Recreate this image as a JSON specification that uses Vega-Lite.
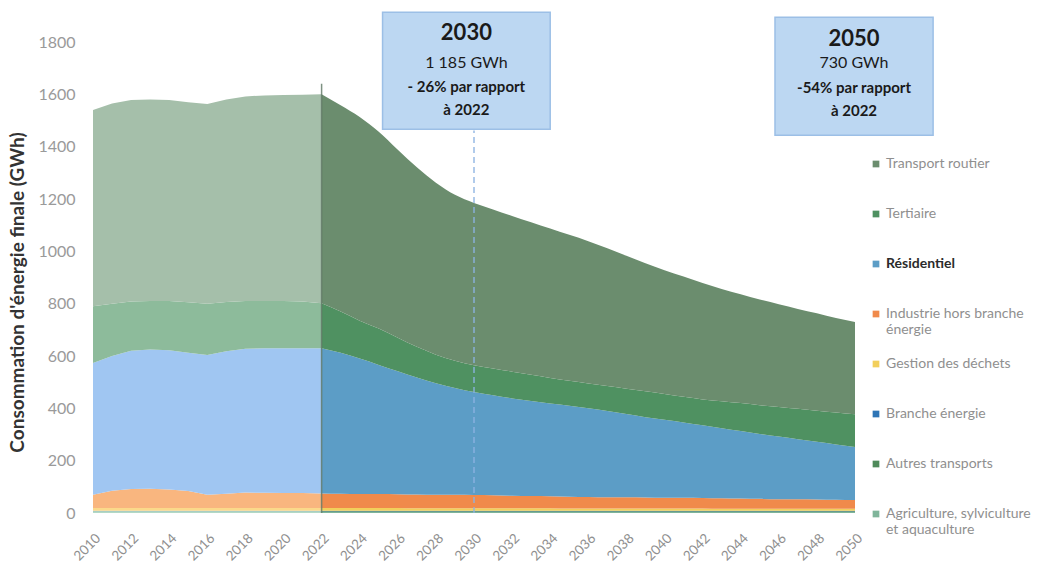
{
  "$schema": "https://vega.github.io/schema/vega-lite/v6.json",
  "width": 762,
  "height": 471,
  "autosize": {"type": "none"},
  "padding": {"left": 93, "top": 42, "right": 190, "bottom": 51},
  "background": "white",
  "config": {
    "view": {"stroke": null},
    "font": "Lato",
    "axis": {"grid": false, "domain": false, "ticks": false}
  },
  "datasets": {
    "secteurs": [
      {"cle": "agri", "secteur": "Agriculture, sylviculture et aquaculture", "rang": 1},
      {"cle": "autres", "secteur": "Autres transports", "rang": 2},
      {"cle": "branche", "secteur": "Branche énergie", "rang": 3},
      {"cle": "dechets", "secteur": "Gestion des déchets", "rang": 4},
      {"cle": "industrie", "secteur": "Industrie hors branche énergie", "rang": 5},
      {"cle": "residentiel", "secteur": "Résidentiel", "rang": 6},
      {"cle": "tertiaire", "secteur": "Tertiaire", "rang": 7},
      {"cle": "transport", "secteur": "Transport routier", "rang": 8}
    ],
    "historique": [
      {"annee": 2010, "agri": 4, "autres": 3, "branche": 2, "dechets": 10, "industrie": 51, "residentiel": 503, "tertiaire": 217, "transport": 750},
      {"annee": 2011, "agri": 4, "autres": 3, "branche": 2, "dechets": 10, "industrie": 66, "residentiel": 515, "tertiaire": 200, "transport": 765},
      {"annee": 2012, "agri": 4, "autres": 3, "branche": 2, "dechets": 10, "industrie": 73, "residentiel": 528, "tertiaire": 188, "transport": 770},
      {"annee": 2013, "agri": 4, "autres": 3, "branche": 2, "dechets": 10, "industrie": 74, "residentiel": 532, "tertiaire": 185, "transport": 770},
      {"annee": 2014, "agri": 4, "autres": 3, "branche": 2, "dechets": 10, "industrie": 71, "residentiel": 532, "tertiaire": 188, "transport": 768},
      {"annee": 2015, "agri": 4, "autres": 3, "branche": 2, "dechets": 10, "industrie": 65, "residentiel": 528, "tertiaire": 193, "transport": 765},
      {"annee": 2016, "agri": 4, "autres": 3, "branche": 2, "dechets": 10, "industrie": 51, "residentiel": 534, "tertiaire": 196, "transport": 763},
      {"annee": 2017, "agri": 4, "autres": 3, "branche": 2, "dechets": 10, "industrie": 55, "residentiel": 544, "tertiaire": 188, "transport": 774},
      {"annee": 2018, "agri": 4, "autres": 3, "branche": 2, "dechets": 10, "industrie": 59, "residentiel": 550, "tertiaire": 182, "transport": 782},
      {"annee": 2019, "agri": 4, "autres": 3, "branche": 2, "dechets": 10, "industrie": 58, "residentiel": 553, "tertiaire": 180, "transport": 786},
      {"annee": 2020, "agri": 4, "autres": 3, "branche": 2, "dechets": 10, "industrie": 57, "residentiel": 554, "tertiaire": 180, "transport": 787},
      {"annee": 2021, "agri": 4, "autres": 3, "branche": 2, "dechets": 10, "industrie": 57, "residentiel": 554, "tertiaire": 178, "transport": 790},
      {"annee": 2022, "agri": 4, "autres": 3, "branche": 2, "dechets": 10, "industrie": 56, "residentiel": 555, "tertiaire": 172, "transport": 798}
    ],
    "projection": [
      {"annee": 2022, "agri": 4, "autres": 3, "branche": 2, "dechets": 10, "industrie": 56, "residentiel": 555, "tertiaire": 172, "transport": 798},
      {"annee": 2023, "agri": 4, "autres": 3, "branche": 2, "dechets": 10, "industrie": 55, "residentiel": 538, "tertiaire": 158, "transport": 788},
      {"annee": 2024, "agri": 4, "autres": 3, "branche": 2, "dechets": 10, "industrie": 54, "residentiel": 517, "tertiaire": 145, "transport": 778},
      {"annee": 2025, "agri": 4, "autres": 3, "branche": 2, "dechets": 10, "industrie": 54, "residentiel": 493, "tertiaire": 139, "transport": 752},
      {"annee": 2026, "agri": 4, "autres": 3, "branche": 2, "dechets": 10, "industrie": 53, "residentiel": 470, "tertiaire": 128, "transport": 718},
      {"annee": 2027, "agri": 4, "autres": 3, "branche": 2, "dechets": 9, "industrie": 53, "residentiel": 447, "tertiaire": 117, "transport": 686},
      {"annee": 2028, "agri": 4, "autres": 3, "branche": 2, "dechets": 9, "industrie": 52, "residentiel": 426, "tertiaire": 109, "transport": 657},
      {"annee": 2029, "agri": 4, "autres": 3, "branche": 2, "dechets": 9, "industrie": 52, "residentiel": 408, "tertiaire": 104, "transport": 634},
      {"annee": 2030, "agri": 4, "autres": 3, "branche": 2, "dechets": 9, "industrie": 51, "residentiel": 393, "tertiaire": 103, "transport": 620},
      {"annee": 2031, "agri": 4, "autres": 3, "branche": 2, "dechets": 9, "industrie": 50, "residentiel": 382, "tertiaire": 102, "transport": 608},
      {"annee": 2032, "agri": 4, "autres": 3, "branche": 2, "dechets": 9, "industrie": 48, "residentiel": 372, "tertiaire": 102, "transport": 595},
      {"annee": 2033, "agri": 4, "autres": 3, "branche": 2, "dechets": 9, "industrie": 47, "residentiel": 363, "tertiaire": 100, "transport": 583},
      {"annee": 2034, "agri": 4, "autres": 3, "branche": 2, "dechets": 9, "industrie": 46, "residentiel": 354, "tertiaire": 98, "transport": 571},
      {"annee": 2035, "agri": 4, "autres": 3, "branche": 2, "dechets": 8, "industrie": 45, "residentiel": 348, "tertiaire": 95, "transport": 558},
      {"annee": 2036, "agri": 4, "autres": 3, "branche": 2, "dechets": 8, "industrie": 44, "residentiel": 339, "tertiaire": 95, "transport": 544},
      {"annee": 2037, "agri": 4, "autres": 3, "branche": 2, "dechets": 8, "industrie": 43, "residentiel": 330, "tertiaire": 95, "transport": 527},
      {"annee": 2038, "agri": 4, "autres": 3, "branche": 2, "dechets": 8, "industrie": 43, "residentiel": 318, "tertiaire": 97, "transport": 508},
      {"annee": 2039, "agri": 4, "autres": 3, "branche": 2, "dechets": 8, "industrie": 42, "residentiel": 307, "tertiaire": 99, "transport": 489},
      {"annee": 2040, "agri": 4, "autres": 3, "branche": 2, "dechets": 8, "industrie": 41, "residentiel": 298, "tertiaire": 99, "transport": 473},
      {"annee": 2041, "agri": 4, "autres": 3, "branche": 2, "dechets": 8, "industrie": 41, "residentiel": 288, "tertiaire": 98, "transport": 460},
      {"annee": 2042, "agri": 4, "autres": 3, "branche": 2, "dechets": 8, "industrie": 40, "residentiel": 278, "tertiaire": 99, "transport": 445},
      {"annee": 2043, "agri": 4, "autres": 3, "branche": 2, "dechets": 7, "industrie": 40, "residentiel": 268, "tertiaire": 103, "transport": 429},
      {"annee": 2044, "agri": 4, "autres": 3, "branche": 2, "dechets": 7, "industrie": 39, "residentiel": 258, "tertiaire": 107, "transport": 416},
      {"annee": 2045, "agri": 4, "autres": 3, "branche": 2, "dechets": 7, "industrie": 38, "residentiel": 248, "tertiaire": 110, "transport": 404},
      {"annee": 2046, "agri": 4, "autres": 3, "branche": 2, "dechets": 7, "industrie": 37, "residentiel": 239, "tertiaire": 113, "transport": 393},
      {"annee": 2047, "agri": 4, "autres": 3, "branche": 2, "dechets": 7, "industrie": 37, "residentiel": 229, "tertiaire": 116, "transport": 382},
      {"annee": 2048, "agri": 4, "autres": 3, "branche": 2, "dechets": 7, "industrie": 36, "residentiel": 220, "tertiaire": 119, "transport": 372},
      {"annee": 2049, "agri": 4, "autres": 3, "branche": 2, "dechets": 7, "industrie": 35, "residentiel": 211, "tertiaire": 122, "transport": 361},
      {"annee": 2050, "agri": 4, "autres": 3, "branche": 2, "dechets": 7, "industrie": 34, "residentiel": 202, "tertiaire": 125, "transport": 353}
    ],
    "reperes": [
      {"annee": 2022, "gwh": 0, "gwh_fin": 1640, "type": "jalon"},
      {"annee": 2030, "gwh": 0, "gwh_fin": 1462, "type": "cible"}
    ],
    "cadres": [
      {"annee": 2025.2, "annee_fin": 2034.0, "gwh": 1467, "gwh_fin": 1914},
      {"annee": 2045.8, "annee_fin": 2054.1, "gwh": 1444, "gwh_fin": 1895}
    ],
    "titres": [
      {"annee": 2029.6, "gwh": 1834, "texte": "2030"},
      {"annee": 2049.95, "gwh": 1811, "texte": "2050"}
    ],
    "valeurs": [
      {"annee": 2029.6, "gwh": 1720, "texte": "1 185 GWh"},
      {"annee": 2049.95, "gwh": 1720, "texte": "730 GWh"}
    ],
    "evolutions": [
      {"annee": 2029.6, "gwh": 1628, "texte": "- 26% par rapport"},
      {"annee": 2029.6, "gwh": 1540, "texte": "à 2022"},
      {"annee": 2049.95, "gwh": 1624, "texte": "-54% par rapport"},
      {"annee": 2049.95, "gwh": 1536, "texte": "à 2022"}
    ]
  },
  "encoding": {
    "x": {
      "field": "annee", "type": "quantitative",
      "scale": {"domain": [2010, 2050], "nice": false, "zero": false},
      "axis": {
        "title": null,
        "values": [2010, 2012, 2014, 2016, 2018, 2020, 2022, 2024, 2026, 2028, 2030, 2032, 2034, 2036, 2038, 2040, 2042, 2044, 2046, 2048, 2050],
        "format": "d", "labelOverlap": false, "labelAngle": -45, "labelFontSize": 13.5,
        "labelColor": "#8f8f8f", "labelPadding": 18, "labelBound": false, "labelFlush": false
      }
    },
    "y": {
      "field": "gwh", "type": "quantitative",
      "scale": {"domain": [0, 1800], "nice": false},
      "axis": {
        "title": "Consommation d'énergie finale (GWh)",
        "values": [0, 200, 400, 600, 800, 1000, 1200, 1400, 1600, 1800],
        "format": "d", "labelFontSize": 16, "labelColor": "#9a9a9a", "labelPadding": 18,
        "titleFontSize": 19, "titleFontWeight": "bold", "titleColor": "#333333", "titlePadding": 10,
        "titleY": 250
      }
    }
  },
  "resolve": {"scale": {"color": "independent"}},
  "layer": [
    {
      "data": {"name": "historique"},
      "transform": [
        {"fold": ["agri", "autres", "branche", "dechets", "industrie", "residentiel", "tertiaire", "transport"], "as": ["cle", "gwh"]},
        {"lookup": "cle", "from": {"data": {"name": "secteurs"}, "key": "cle", "fields": ["secteur", "rang"]}}
      ],
      "mark": {"type": "area"},
      "encoding": {
        "color": {
          "field": "secteur", "type": "nominal", "legend": null,
          "scale": {
            "domain": ["Transport routier", "Tertiaire", "Résidentiel", "Industrie hors branche énergie", "Gestion des déchets", "Branche énergie", "Autres transports", "Agriculture, sylviculture et aquaculture"],
            "range": ["#a5bfaa", "#8dbb9b", "#a0c6f2", "#f9b67f", "#fbd98a", "#86b5e3", "#9ccaa3", "#b3d9c6"]
          }
        },
        "order": {"field": "rang", "type": "quantitative", "sort": "ascending"}
      }
    },
    {
      "data": {"name": "projection"},
      "transform": [
        {"fold": ["agri", "autres", "branche", "dechets", "industrie", "residentiel", "tertiaire", "transport"], "as": ["cle", "gwh"]},
        {"lookup": "cle", "from": {"data": {"name": "secteurs"}, "key": "cle", "fields": ["secteur", "rang"]}}
      ],
      "mark": {"type": "area", "interpolate": "monotone"},
      "encoding": {
        "color": {
          "field": "secteur", "type": "nominal",
          "scale": {
            "domain": ["Transport routier", "Tertiaire", "Résidentiel", "Industrie hors branche énergie", "Gestion des déchets", "Branche énergie", "Autres transports", "Agriculture, sylviculture et aquaculture"],
            "range": ["#6b8d6e", "#4f9161", "#5c9dc6", "#f08a4b", "#f2cf5b", "#2e75b6", "#4f8a5a", "#7fb59a"]
          },
          "legend": {
            "title": null,
            "orient": "none",
            "legendX": 776,
            "legendY": 115,
            "symbolType": "square",
            "symbolSize": 45,
            "labelFontSize": 14,
            "labelColor": "#8f8f8f",
            "labelLimit": 220,
            "labelOffset": 3,
            "rowPadding": 20,
            "gridAlign": "all",
            "labelExpr": "datum.label == 'Industrie hors branche énergie' ? ['Industrie hors branche', 'énergie'] : datum.label == 'Agriculture, sylviculture et aquaculture' ? ['Agriculture, sylviculture', 'et aquaculture'] : datum.label",
            "encode": {
              "labels": {
                "update": {
                  "fill": {"signal": "datum.label === 'Résidentiel' ? '#2b2b2b' : '#8f8f8f'"},
                  "fontWeight": {"signal": "datum.label === 'Résidentiel' ? 'bold' : 'normal'"}
                }
              }
            }
          }
        },
        "order": {"field": "rang", "type": "quantitative", "sort": "ascending"}
      }
    },
    {
      "data": {"name": "reperes"},
      "transform": [{"filter": "datum.type == 'jalon'"}],
      "mark": {"type": "rule", "color": "#5d7563", "strokeWidth": 1.5, "opacity": 0.8},
      "encoding": {
        "y2": {"field": "gwh_fin"}
      }
    },
    {
      "data": {"name": "reperes"},
      "transform": [{"filter": "datum.type == 'cible'"}],
      "mark": {"type": "rule", "color": "#8db3e2", "strokeWidth": 1.5, "strokeDash": [6, 4], "opacity": 0.9},
      "encoding": {
        "y2": {"field": "gwh_fin"}
      }
    },
    {
      "data": {"name": "cadres"},
      "mark": {"type": "rect", "fill": "#bcd7f2", "stroke": "#9cbfe6", "strokeWidth": 1.5},
      "encoding": {
        "x2": {"field": "annee_fin"},
        "y2": {"field": "gwh_fin"}
      }
    },
    {
      "data": {"name": "titres"},
      "mark": {"type": "text", "fontSize": 22, "fontWeight": "bold", "color": "#1a1a1a", "baseline": "middle", "align": "center"},
      "encoding": {
        "text": {"field": "texte"}
      }
    },
    {
      "data": {"name": "valeurs"},
      "mark": {"type": "text", "fontSize": 16, "color": "#1a1a1a", "baseline": "middle", "align": "center"},
      "encoding": {
        "text": {"field": "texte"}
      }
    },
    {
      "data": {"name": "evolutions"},
      "mark": {"type": "text", "fontSize": 15, "fontWeight": "bold", "color": "#1a1a1a", "baseline": "middle", "align": "center"},
      "encoding": {
        "text": {"field": "texte"}
      }
    }
  ]
}
